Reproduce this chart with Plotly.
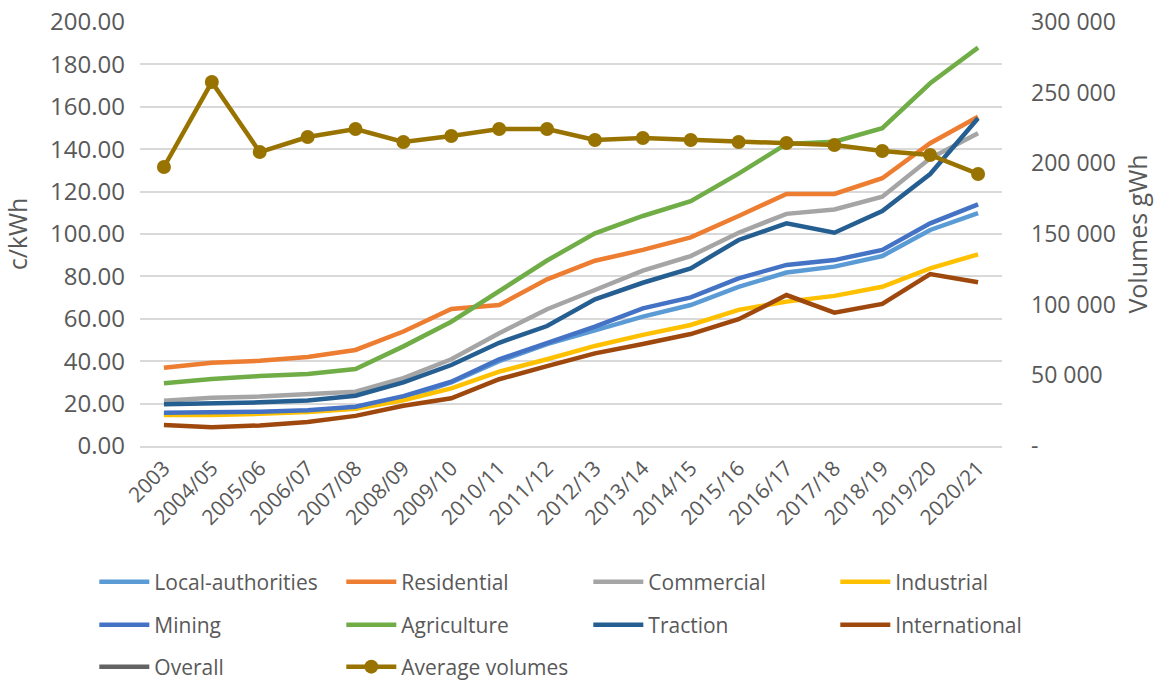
import plotly.graph_objects as go

categories = ["2003", "2004/05", "2005/06", "2006/07", "2007/08", "2008/09", "2009/10",
              "2010/11", "2011/12", "2012/13", "2013/14", "2014/15", "2015/16", "2016/17",
              "2017/18", "2018/19", "2019/20", "2020/21"]

local_authorities = [15.0, 15.3, 15.8, 16.3, 17.8, 22.5, 30.0, 40.0, 48.1, 54.7, 61.0, 66.5, 75.1, 81.8, 84.6, 89.6, 101.9, 109.8]
residential = [36.9, 39.3, 40.2, 42.0, 45.3, 54.0, 64.6, 66.5, 78.6, 87.4, 92.5, 98.4, 108.5, 118.9, 118.9, 126.3, 142.8, 155.3]
commercial = [21.4, 22.8, 23.3, 24.2, 25.6, 32.0, 40.9, 53.2, 64.5, 73.6, 82.7, 89.6, 100.6, 109.5, 111.6, 117.6, 135.7, 147.5]
industrial = [14.6, 14.6, 15.2, 16.0, 17.6, 21.5, 27.2, 35.1, 40.9, 47.2, 52.4, 57.1, 64.2, 68.1, 70.8, 75.1, 83.8, 90.4]
mining = [15.7, 15.7, 16.2, 16.9, 18.5, 23.5, 30.3, 40.9, 48.7, 56.3, 64.9, 70.1, 79.1, 85.4, 87.7, 92.5, 105.0, 114.0]
agriculture = [29.6, 31.6, 33.0, 34.0, 36.3, 47.0, 58.6, 73.0, 87.5, 100.3, 108.5, 115.5, 128.5, 142.5, 143.5, 149.9, 171.1, 187.9]
traction = [19.7, 20.1, 20.6, 21.5, 23.7, 30.0, 38.2, 48.7, 56.6, 69.2, 77.0, 83.8, 97.2, 105.0, 100.6, 110.8, 128.3, 154.6]
international = [9.9, 8.8, 9.7, 11.3, 14.2, 19.0, 22.5, 31.5, 37.7, 43.7, 48.1, 52.8, 59.8, 71.2, 62.9, 67.0, 81.1, 77.2]
overall = [None] * len(categories)
average_volumes = [197400, 257500, 208000, 218600, 224300, 215100, 219300, 224300, 224300, 216500,
                   217900, 216500, 215100, 214400, 213000, 208700, 205900, 192500]

left_ticks = [0, 20, 40, 60, 80, 100, 120, 140, 160, 180, 200]
right_ticks = [0, 50000, 100000, 150000, 200000, 250000, 300000]
right_ticktext = ["-", "50 000", "100 000", "150 000", "200 000", "250 000", "300 000"]

FONT = "Open Sans"
TXT = "#595959"
LW = 4.5

series = [
    ("Local-authorities", local_authorities, "#5B9BD5", "legend"),
    ("Residential", residential, "#ED7D31", "legend"),
    ("Commercial", commercial, "#A5A5A5", "legend"),
    ("Industrial", industrial, "#FFC000", "legend"),
    ("Mining", mining, "#4472C4", "legend2"),
    ("Agriculture", agriculture, "#70AD47", "legend2"),
    ("Traction", traction, "#255E91", "legend2"),
    ("International", international, "#9E480E", "legend2"),
    ("Overall", overall, "#636363", "legend3"),
]

fig = go.Figure()
for name, vals, color, lg in series:
    fig.add_trace(go.Scatter(x=categories, y=vals, name=name, mode="lines",
                             line=dict(color=color, width=LW), legend=lg))

fig.add_trace(go.Scatter(x=categories, y=average_volumes, name="Average volumes", mode="lines+markers",
                         line=dict(color="#997300", width=LW), marker=dict(size=14, color="#997300"),
                         yaxis="y2", legend="legend3"))

plot_top, plot_bot = 22, 446
H = plot_bot - plot_top

def ly(py):
    return (plot_bot - py) / H

leg_common = dict(orientation="h", xanchor="left", yanchor="middle", x=-0.053,
                  entrywidth=182, entrywidthmode="pixels", font=dict(family=FONT, size=21, color=TXT),
                  bgcolor="rgba(0,0,0,0)", itemwidth=50, traceorder="normal")

fig.update_layout(
    width=1163, height=680,
    margin=dict(l=140, r=161, t=22, b=234, autoexpand=False),
    paper_bgcolor="white", plot_bgcolor="white",
    font=dict(family=FONT, size=21, color=TXT),
    showlegend=True,
    legend=dict(**leg_common, y=ly(582)),
    legend2=dict(**leg_common, y=ly(625)),
    legend3=dict(**leg_common, y=ly(667)),
    xaxis=dict(type="category", tickangle=-45, showgrid=False, showline=True,
               linecolor="#d9d9d9", linewidth=1.5, ticks="", tickfont=dict(size=21, color=TXT),
               range=[-0.5, len(categories) - 0.5]),
    yaxis=dict(range=[0, 200], tickvals=left_ticks, tickformat=".2f", showgrid=True,
               gridcolor="#d9d9d9", gridwidth=1.5, zeroline=False, showline=False,
               ticklabelstandoff=14,
               title=dict(text="c/kWh", font=dict(size=25, color=TXT), standoff=17),
               tickfont=dict(size=24, color=TXT)),
    yaxis2=dict(range=[0, 300000], overlaying="y", side="right", tickvals=right_ticks,
                ticktext=right_ticktext, showgrid=False, zeroline=False, showline=False,
                ticklabelstandoff=28,
                title=dict(text="Volumes gWh", font=dict(size=25, color=TXT), standoff=14),
                tickfont=dict(size=23, color=TXT)),
)

fig.write_html("out.html")
